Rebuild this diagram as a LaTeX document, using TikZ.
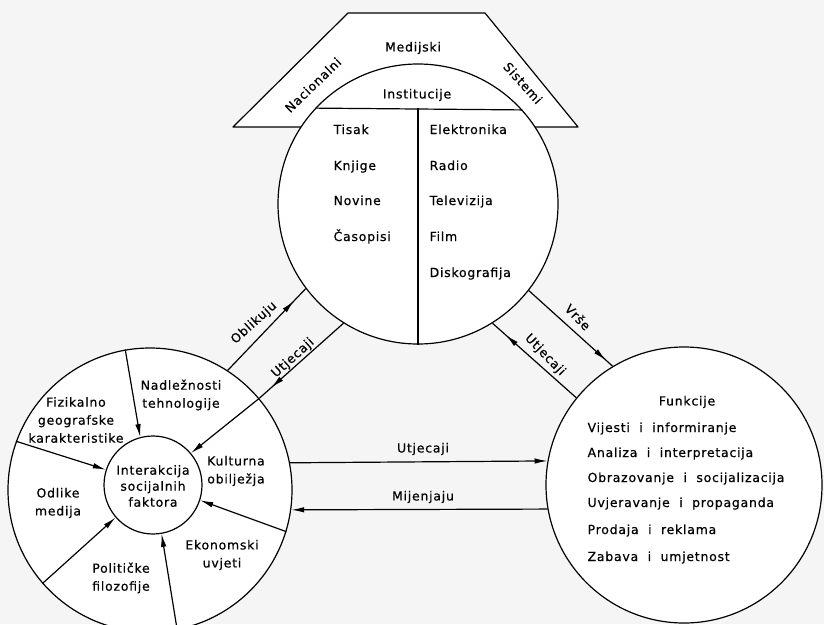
\documentclass[tikz,border=0pt]{standalone}
\usepackage{fontspec}
\setmainfont[LetterSpace=6,FakeBold=0.5]{DejaVu Sans}
\usetikzlibrary{arrows.meta,decorations.markings}
\begin{document}
\begin{tikzpicture}[x=1pt,y=-1pt,
  line width=1.2pt,
  lbl/.style={font=\fontsize{12.5}{18}\selectfont, inner sep=0pt, align=center},
  lw/.style={lbl, anchor=base west},
  ring/.style={circle, draw, fill=white, inner sep=0pt},
  tip/.style={-{Latex[length=13pt,width=5.5pt]}},
  tipat/.style={postaction={decorate},decoration={markings,mark=at position #1 with {\arrow{Latex[length=13pt,width=5.5pt]}}}}
]
\fill[black!4] (0,0) rectangle (824,624);
\useasboundingbox (0,0) rectangle (824,624);

% ---------- top: media system ----------
\coordinate (tl) at (348,13);
\coordinate (tr) at (485,13);
\coordinate (br) at (578,127);
\coordinate (bl) at (233,127);
\draw[fill=white, line join=round] (bl) -- (tl) -- (tr) -- (br) -- cycle;
\node[ring, minimum size=280pt] (media) at (418,204) {};
\draw (media.137.3) -- (media.42.7);
\draw (media.137.3 -| media.south) -- (media.south);

\node[lbl] (tMed) at (413,48) {Medijski};
\node[lbl, rotate=44] (tNac) at (313,85) {Nacionalni};
\node[lbl, rotate=-48] (tSis) at (523,83) {Sistemi};
\node[lbl] (tIns) at (417,95) {Institucije};

\node[lw] (tTis) at (333,134) {Tisak};
\node[lw] (tKnj) at (333,170) {Knjige};
\node[lw] (tNov) at (333,205) {Novine};
\node[lw] (tCas) at (333,241) {Časopisi};
\node[lw] (tEle) at (429,134) {Elektronika};
\node[lw] (tRad) at (429,170) {Radio};
\node[lw] (tTel) at (429,205) {Televizija};
\node[lw] (tFil) at (429,241) {Film};
\node[lw] (tDis) at (429,277) {Diskografija};

% ---------- left: social factors ----------
\node[ring, minimum size=284pt] (soc) at (150,490) {};
\node[ring, minimum size=98pt] (inner) at (153,485) {};
\node[lbl, font=\fontsize{12.5}{16}\selectfont] (tInt) at (153,486) {Interakcija\\socijalnih\\faktora};

\draw[tip] (soc.100.9) -- (inner.105);
\draw[tip] (soc.160.2) -- (inner.162);
\draw[tip] (soc.221) -- (inner.221);
\draw[tip] (soc.281.4) -- (inner.280.2);
\draw[tip] (soc.343.3) -- (inner.342.3);
\draw[tip] (soc.40) -- (inner.40.6);

\node[lbl] (tFiz) at (76,420) {Fizikalno\\geografske\\karakteristike};
\node[lbl] (tNad) at (181,395) {Nadležnosti\\tehnologije};
\node[lbl] (tKul) at (236,471) {Kulturna\\obilježja};
\node[lbl] (tOdl) at (58,503) {Odlike\\medija};
\node[lbl] (tPol) at (121,578) {Političke\\filozofije};
\node[lbl] (tEko) at (222,555) {Ekonomski\\uvjeti};

% ---------- right: functions ----------
\node[ring, minimum size=276pt] (func) at (684,485) {};
\node[lbl] (tFun) at (687,402) {Funkcije};
\node[lw] (f1) at (587,432) {Vijesti\ \ i\ \ informiranje};
\node[lw] (f2) at (587,457) {Analiza\ \ i\ \ interpretacija};
\node[lw] (f3) at (587,482) {Obrazovanje\ \ i\ \ socijalizacija};
\node[lw] (f4) at (587,507) {Uvjeravanje\ \ i\ \ propaganda};
\node[lw] (f5) at (587,534) {Prodaja\ \ i\ \ reklama};
\node[lw] (f6) at (587,561) {Zabava\ \ i\ \ umjetnost};

% ---------- connectors ----------
\draw[tipat=-17pt] (soc.57.4) -- (media.217.7);
\draw[tipat=-16pt] (media.238.5) -- (soc.40);
\draw[tipat=-9pt] (media.322.8) -- (func.121.6);
\draw[tipat=-18pt] (func.141.9) -- (media.302.7);
\draw[tip] (soc.11.4) -- (func.170.4);
\draw[tip] (func.190.86) -- (soc.-8.5);

\node[lbl, rotate=42] (cObl) at (254,323) {Oblikuju};
\node[lbl, rotate=42] (cUt1) at (293,358) {Utjecaji};
\node[lbl, rotate=-46] (cVrs) at (578,317) {Vrše};
\node[lbl, rotate=-46] (cUt2) at (545,355) {Utjecaji};
\node[lbl] (cUt3) at (423,449) {Utjecaji};
\node[lbl] (cMij) at (423,497) {Mijenjaju};
\end{tikzpicture}
\end{document}
